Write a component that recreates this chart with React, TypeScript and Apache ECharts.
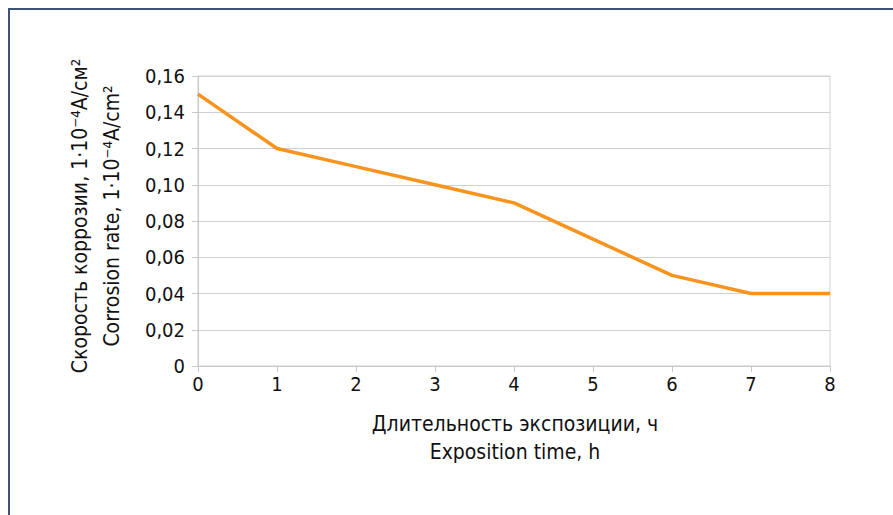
import React, { useEffect, useRef } from "react";
import * as echarts from "echarts";

const hours = ["0", "1", "2", "3", "4", "5", "6", "7", "8"];
const corrosionRate = [0.15, 0.12, 0.11, 0.1, 0.09, 0.07, 0.05, 0.04, 0.04];
const yAxisTitle = ["Скорость коррозии, 1·10⁻⁴A/см²", "Corrosion rate, 1·10⁻⁴A/cm²"];
const xAxisTitle = ["Длительность экспозиции, ч", "Exposition time, h"];

const FONT = "'DejaVu Sans Condensed', 'DejaVu Sans', sans-serif";

export default function App() {
  const ref = useRef<HTMLDivElement>(null);
  useEffect(() => {
    if (!ref.current) return;
    const chart = echarts.init(ref.current, null, { renderer: "svg" });
    const title = (text: string, x: number, y: number, rot: number) => ({
      type: "text",
      x,
      y,
      rotation: rot,
      style: {
        text,
        font: `21px ${FONT}`,
        fill: "#111",
        align: "center",
        verticalAlign: "middle",
      },
    });
    chart.setOption({
      animation: false,
      backgroundColor: "#ffffff",
      textStyle: { fontFamily: FONT },
      grid: {
        left: 198,
        right: 63,
        top: 76,
        bottom: 149,
        show: true,
        borderColor: "#d0d0d0",
        borderWidth: 1,
      },
      graphic: [
        {
          type: "rect",
          shape: { x: 9, y: 9, width: 1000, height: 1000 },
          style: { fill: "none", stroke: "#3f5475", lineWidth: 2 },
        },
        title(yAxisTitle[0], 80, 216, Math.PI / 2),
        title(yAxisTitle[1], 112, 216, Math.PI / 2),
        title(xAxisTitle[0], 515, 424, 0),
        title(xAxisTitle[1], 515, 452, 0),
      ],
      xAxis: {
        type: "category",
        data: hours,
        boundaryGap: false,
        axisLine: { lineStyle: { color: "#c8c8c8", width: 1 } },
        axisTick: { show: true, length: 6, lineStyle: { color: "#c8c8c8" } },
        axisLabel: { color: "#111", fontSize: 20, fontFamily: FONT, margin: 8 },
        splitLine: { show: false },
      },
      yAxis: {
        type: "value",
        min: 0,
        max: 0.16,
        interval: 0.02,
        axisLine: { show: true, lineStyle: { color: "#c8c8c8", width: 1 } },
        axisTick: { show: true, length: 6, lineStyle: { color: "#c8c8c8" } },
        axisLabel: {
          color: "#111",
          fontSize: 20,
          fontFamily: FONT,
          margin: 13,
          formatter: (v: number) => (v === 0 ? "0" : v.toFixed(2).replace(".", ",")),
        },
        splitLine: { show: true, lineStyle: { color: "#d0d0d0", width: 1 } },
      },
      series: [
        {
          type: "line",
          data: corrosionRate,
          symbol: "none",
          lineStyle: { color: "#f7941d", width: 3.5 },
        },
      ],
    });
    return () => chart.dispose();
  }, []);
  return (
    <div
      ref={ref}
      style={{ position: "absolute", left: 0, top: 0, width: 893, height: 515 }}
    />
  );
}
